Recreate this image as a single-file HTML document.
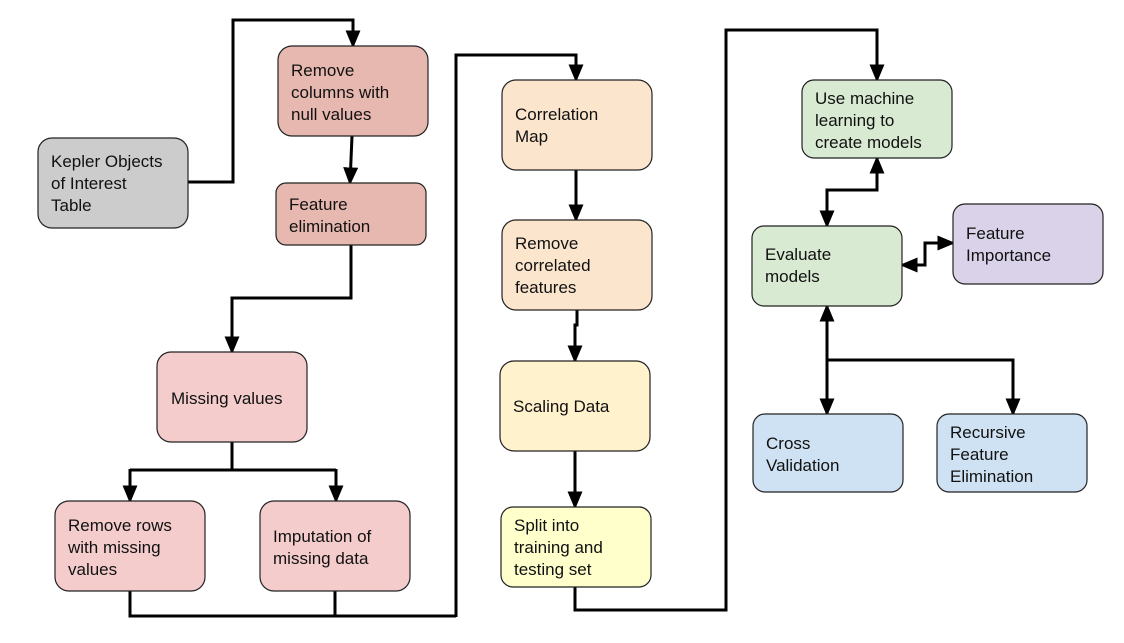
<!DOCTYPE html>
<html><head><meta charset="utf-8"><style>
html,body{margin:0;padding:0;background:#fff;}
svg{display:block;}
text{font-family:"Liberation Sans",Arial,sans-serif;font-size:17px;fill:#111;}
rect{stroke:#222;stroke-width:1.2;}
path.c{fill:none;stroke:#000;stroke-width:3;}
</style></head><body>
<svg width="1124" height="643" viewBox="0 0 1124 643" xmlns="http://www.w3.org/2000/svg">
<defs>
<marker id="a" markerWidth="6" markerHeight="5" refX="5.2" refY="2.5" orient="auto" markerUnits="strokeWidth">
<path d="M0,0 L6,2.5 L0,5 z" fill="#000"/></marker>
<marker id="s" markerWidth="6" markerHeight="5" refX="0.8" refY="2.5" orient="auto" markerUnits="strokeWidth">
<path d="M6,0 L0,2.5 L6,5 z" fill="#000"/></marker>
</defs>
<path class="c" d="M188,182 H233 V20 H353 V46" marker-end="url(#a)"/>
<path class="c" d="M352,136 L350,183" marker-end="url(#a)"/>
<path class="c" d="M351,245 V298 H232 V352" marker-end="url(#a)"/>
<path class="c" d="M232,442 V470"/>
<path class="c" d="M130,470 H336"/>
<path class="c" d="M130,469 V501" marker-end="url(#a)"/>
<path class="c" d="M336,469 V501" marker-end="url(#a)"/>
<path class="c" d="M130,591 V616 H456"/>
<path class="c" d="M335,591 V616"/>
<path class="c" d="M456,617 V55 H576 V80" marker-end="url(#a)"/>
<path class="c" d="M576,170 V220" marker-end="url(#a)"/>
<path class="c" d="M577,310 V325 H575 V361" marker-end="url(#a)"/>
<path class="c" d="M575,451 V507" marker-end="url(#a)"/>
<path class="c" d="M575,587 V610 H726 V30 H877 V80" marker-end="url(#a)"/>
<path class="c" d="M827,226 V190 H877 V158" marker-start="url(#s)" marker-end="url(#a)"/>
<path class="c" d="M902,265 H925 V243 H953" marker-start="url(#s)" marker-end="url(#a)"/>
<path class="c" d="M827,306 V414" marker-start="url(#s)" marker-end="url(#a)"/>
<path class="c" d="M827,360 H1013 V414" marker-end="url(#a)"/>
<rect x="38" y="138" width="150" height="90" rx="14" fill="#cccccc"/>
<text x="51" y="167">Kepler Objects</text><text x="51" y="189">of Interest</text><text x="51" y="211">Table</text>
<rect x="278" y="46" width="150" height="90" rx="14" fill="#e6b8af"/>
<text x="291" y="76">Remove</text><text x="291" y="98">columns with</text><text x="291" y="120">null values</text>
<rect x="276" y="183" width="150" height="62" rx="10" fill="#e6b8af"/>
<text x="289" y="210">Feature</text><text x="289" y="232">elimination</text>
<rect x="157" y="352" width="150" height="90" rx="14" fill="#f4cccc"/>
<text x="171" y="404">Missing values</text>
<rect x="55" y="501" width="150" height="90" rx="14" fill="#f4cccc"/>
<text x="68" y="531">Remove rows</text><text x="68" y="553">with missing</text><text x="68" y="575">values</text>
<rect x="260" y="501" width="150" height="90" rx="14" fill="#f4cccc"/>
<text x="273" y="542">Imputation of</text><text x="273" y="564">missing data</text>
<rect x="502" y="80" width="150" height="90" rx="14" fill="#fce5cd"/>
<text x="515" y="120">Correlation</text><text x="515" y="142">Map</text>
<rect x="502" y="220" width="150" height="90" rx="14" fill="#fce5cd"/>
<text x="515" y="249">Remove</text><text x="515" y="271">correlated</text><text x="515" y="293">features</text>
<rect x="500" y="361" width="150" height="90" rx="14" fill="#fff2cc"/>
<text x="513" y="412">Scaling Data</text>
<rect x="501" y="507" width="150" height="80" rx="12" fill="#ffffcc"/>
<text x="514" y="531">Split into</text><text x="514" y="553">training and</text><text x="514" y="575">testing set</text>
<rect x="802" y="80" width="150" height="78" rx="12" fill="#d9ead3"/>
<text x="815" y="104">Use machine</text><text x="815" y="126">learning to</text><text x="815" y="148">create models</text>
<rect x="752" y="226" width="150" height="80" rx="12" fill="#d9ead3"/>
<text x="765" y="260">Evaluate</text><text x="765" y="282">models</text>
<rect x="953" y="204" width="150" height="80" rx="12" fill="#d9d2e9"/>
<text x="966" y="239">Feature</text><text x="966" y="261">Importance</text>
<rect x="753" y="414" width="150" height="78" rx="12" fill="#cfe2f3"/>
<text x="766" y="449">Cross</text><text x="766" y="471">Validation</text>
<rect x="937" y="414" width="150" height="78" rx="12" fill="#cfe2f3"/>
<text x="950" y="438">Recursive</text><text x="950" y="460">Feature</text><text x="950" y="482">Elimination</text>
</svg>
</body></html>
